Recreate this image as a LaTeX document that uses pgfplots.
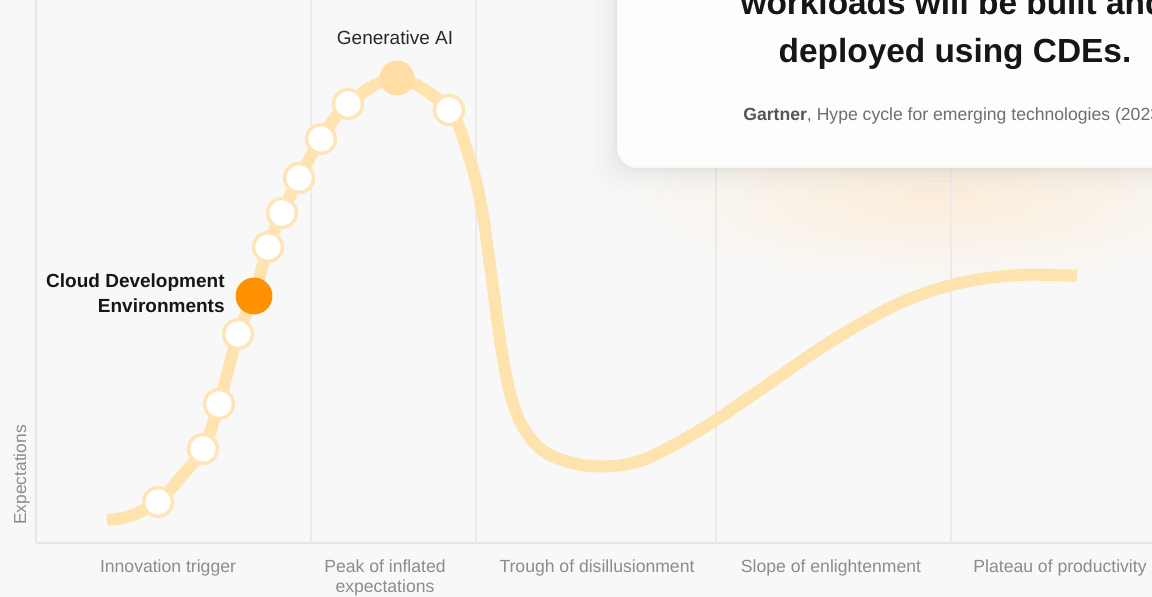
\documentclass[border=0pt]{standalone}
\usepackage{pgfplots}
\pgfplotsset{compat=1.18}
\usepackage{fontspec}
\setmainfont{Liberation Sans}
\definecolor{bg}{HTML}{F8F8F8}
\definecolor{sep}{HTML}{ECEAEA}
\definecolor{axisc}{HTML}{EAE5E5}
\definecolor{curve}{HTML}{FFE3AF}
\definecolor{ring}{HTML}{FFE4B5}
\definecolor{peak}{HTML}{FFDDA4}
\definecolor{cde}{HTML}{FF9000}
\definecolor{ticktext}{HTML}{8C8C8C}
\definecolor{ink}{HTML}{161616}
\definecolor{glow}{HTML}{FBEDDA}
\definecolor{cite}{HTML}{6E6E6E}
\definecolor{citeb}{HTML}{555555}
\definecolor{cardedge}{HTML}{F8F8F8}
\definecolor{card}{HTML}{FDFDFC}

\begin{document}
\begin{tikzpicture}
\path[use as bounding box] (0,0) rectangle (576pt,298.5pt);
\clip (0,0) rectangle (576pt,298.5pt);
\fill[bg] (0,0) rectangle (576pt,298.5pt);
% warm glow under the card
\shade[inner color=glow, outer color=bg] (470pt,200pt) ellipse [x radius=165pt, y radius=45pt];

\begin{axis}[
    at={(18pt,27pt)}, anchor=south west,
    scale only axis, width=558pt, height=271.5pt,
    xmin=36, xmax=1152, ymin=0, ymax=543,
    clip=false,
    axis x line*=bottom, axis y line*=left,
    axis line style={draw=axisc, line width=1.3pt},
    ytick=\empty,
    xtick={168,385,597,831,1060},
    xticklabels={Innovation trigger, {Peak of inflated\\expectations}, Trough of disillusionment, Slope of enlightenment, Plateau of productivity},
    major tick length=0pt,
    xticklabel style={anchor=north, inner sep=0pt, yshift=-8pt, align=center,
        font=\fontsize{8.8}{10}\selectfont, text=ticktext},
    extra x ticks={311,476,716,951},
    extra x tick labels={},
    extra x tick style={grid=major, major grid style={draw=sep, line width=1pt}},
]
% hype curve, x in pixels, y = height above the baseline
\addplot[smooth, tension=0.55, line width=6pt, draw=curve] coordinates {
    (107,23) (130,27) (158,41) (180,65) (203,94) (219,139) (238,209)
    (254,247) (268,296) (282,330) (299,365) (321,404) (348,439) (397,465)
    (449,433) (470,383) (482,333) (492,263) (500,203) (510,150) (524,114)
    (548,89) (590,77) (640,82) (700,113) (760,153) (830,201) (900,240)
    (960,260) (1020,268) (1077,267)
};
% technologies on the curve
\addplot[only marks, mark=*, mark size=7.2pt, draw=ring, fill=white,
    mark options={draw=ring, fill=white, line width=1.7pt}] coordinates {
    (158,41) (203,94) (219,139) (238,209) (268,296) (282,330)
    (299,365) (321,404) (348,439) (449,433)
};
\addplot[only marks, mark=*, mark size=8.5pt, draw=peak, fill=peak,
    mark options={draw=peak, fill=peak}] coordinates {(397,465)};
\addplot[only marks, mark=*, mark size=9pt, draw=cde, fill=cde,
    mark options={draw=cde, fill=cde}] coordinates {(254,247)};
\end{axis}

% card shadow and card (pixel coordinates, y down)
\begin{scope}[x=0.5pt,y=-0.5pt,shift={(0,298.5pt)}]
  \foreach \dd/\op in {26/0.006, 20/0.008, 14/0.010, 9/0.013, 5/0.016, 2/0.02} {
    \fill[black, opacity=\op, rounded corners=12pt] (617-\dd,-80) rectangle (1230,168+\dd);
  }
  \fill[cardedge, rounded corners=10pt] (617,-80) rectangle (1230,168);
  \fill[card, rounded corners=10pt] (618,-80) rectangle (1230,166.5);
  \node[anchor=base, inner sep=0pt, font=\fontsize{16.7}{20}\selectfont\bfseries, text=ink]
    at (953,15) {workloads will be built and};
  \node[anchor=base, inner sep=0pt, font=\fontsize{16.7}{20}\selectfont\bfseries, text=ink]
    at (955,63) {deployed using CDEs.};
  \node[anchor=base west, inner sep=0pt, font=\fontsize{8.8}{10}\selectfont, text=cite]
    at (743,121) {\textcolor{citeb}{\textbf{Gartner}}, Hype cycle for emerging technologies (2023)};
  % point labels
  \node[anchor=base, inner sep=0pt, font=\fontsize{9.5}{11}\selectfont, text=ink!92]
    at (395,45) {Generative AI};
  \node[anchor=base east, inner sep=0pt, font=\fontsize{9.5}{11}\selectfont\bfseries, text=ink]
    at (225,288) {Cloud Development};
  \node[anchor=base east, inner sep=0pt, font=\fontsize{9.5}{11}\selectfont\bfseries, text=ink]
    at (225,313) {Environments};
  \node[rotate=90, anchor=base, inner sep=0pt, font=\fontsize{8.7}{10}\selectfont, text=ticktext]
    at (26,475) {Expectations};
\end{scope}
\end{tikzpicture}
\end{document}
